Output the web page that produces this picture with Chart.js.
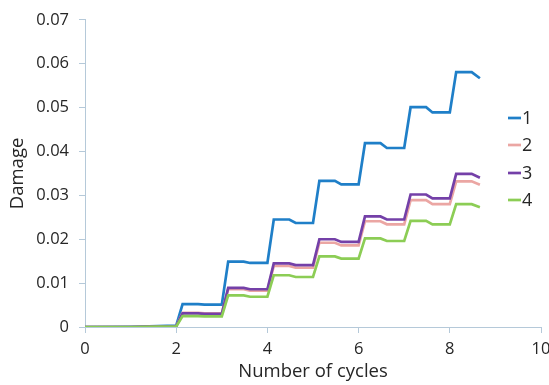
<!DOCTYPE html>
<html>
<head>
<meta charset="utf-8">
<script src="https://cdn.jsdelivr.net/npm/chart.js@4.4.1/dist/chart.umd.min.js"></script>
<style>
  html, body { margin: 0; padding: 0; background: #fff; }
  #wrap { width: 549px; height: 385px; position: relative; }
</style>
</head>
<body>
<div id="wrap"><canvas id="damageChart"></canvas></div>
<script>
/* ── data ── */
const cycles = [0, 1.0, 1.6, 2.0, 2.14, 2.48, 2.62, 3.0, 3.14, 3.48, 3.62, 4.0, 4.14, 4.48, 4.62,
  5.0, 5.14, 5.48, 5.62, 6.0, 6.14, 6.48, 6.62, 7.0, 7.14, 7.48, 7.62, 8.0, 8.14, 8.48, 8.66];

const series1 = [0, 0.00005, 0.0002, 0.0003, 0.0052, 0.0052, 0.0051, 0.0051, 0.0149, 0.0149, 0.0146, 0.0146,
  0.0245, 0.0245, 0.0237, 0.0237, 0.0333, 0.0333, 0.0325, 0.0325, 0.0419, 0.0419, 0.0408, 0.0408,
  0.0501, 0.0501, 0.0489, 0.0489, 0.0581, 0.0581, 0.0567];
const series2 = [0, 0, 0.0001, 0.0002, 0.0032, 0.0032, 0.0031, 0.0031, 0.0086, 0.0086, 0.0083, 0.0083,
  0.0139, 0.0139, 0.0135, 0.0135, 0.0192, 0.0192, 0.0186, 0.0186, 0.0241, 0.0241, 0.0234, 0.0234,
  0.0289, 0.0289, 0.0280, 0.0280, 0.0332, 0.0332, 0.0324];
const series3 = [0, 0, 0.0001, 0.0002, 0.0031, 0.0031, 0.0030, 0.0030, 0.0089, 0.0089, 0.0086, 0.0086,
  0.0145, 0.0145, 0.0141, 0.0141, 0.0200, 0.0200, 0.0194, 0.0194, 0.0252, 0.0252, 0.0245, 0.0245,
  0.0302, 0.0302, 0.0293, 0.0293, 0.0349, 0.0349, 0.0340];
const series4 = [0, 0, 0.0001, 0.0001, 0.0025, 0.0025, 0.0024, 0.0024, 0.0072, 0.0072, 0.0069, 0.0069,
  0.0118, 0.0118, 0.0114, 0.0114, 0.0161, 0.0161, 0.0156, 0.0156, 0.0202, 0.0202, 0.0196, 0.0196,
  0.0242, 0.0242, 0.0234, 0.0234, 0.0280, 0.0280, 0.0273];

const seriesNames = ['1', '2', '3', '4'];
const xTicks = [0, 2, 4, 6, 8, 10];
const yTicks = [0, 0.01, 0.02, 0.03, 0.04, 0.05, 0.06, 0.07];

const COLORS = ['#1f7fc8', '#eba6a3', '#7440a8', '#8ccd55'];
const AXIS = '#b5c9d9';
const TEXT = '#262626';
const FONT = "'Open Sans', sans-serif";

function pairs(ys) {
  return cycles.map((x, i) => ({ x, y: ys[i] }));
}

// later series on top, as in the original (lower order = drawn last)
function lineDataset(label, ys, color, order) {
  return {
    label,
    data: pairs(ys),
    borderColor: color,
    backgroundColor: color,
    borderWidth: 2.7,
    pointRadius: 0,
    showLine: true,
    tension: 0,
    order,
  };
}

/* legend sits inside the plot, on the right, like the original */
const innerLegend = {
  id: 'innerLegend',
  afterDraw(chart) {
    const ctx = chart.ctx;
    const rows = [118, 145, 173, 200];
    ctx.save();
    ctx.font = '18px ' + FONT;
    ctx.textBaseline = 'middle';
    ctx.textAlign = 'left';
    chart.data.datasets.forEach((ds, i) => {
      ctx.strokeStyle = ds.borderColor;
      ctx.lineWidth = 2.7;
      ctx.beginPath();
      ctx.moveTo(508, rows[i]);
      ctx.lineTo(521, rows[i]);
      ctx.stroke();
      ctx.fillStyle = TEXT;
      ctx.fillText(ds.label, 522, rows[i] + 1);
    });
    ctx.restore();
  }
};

new Chart(document.getElementById('damageChart'), {
  type: 'scatter',
  data: {
    datasets: [
      lineDataset(seriesNames[0], series1, COLORS[0], 4),
      lineDataset(seriesNames[1], series2, COLORS[1], 3),
      lineDataset(seriesNames[2], series3, COLORS[2], 2),
      lineDataset(seriesNames[3], series4, COLORS[3], 1),
    ]
  },
  options: {
    responsive: true,
    maintainAspectRatio: false,
    animation: false,
    layout: { padding: { left: 0, right: 8, top: 17, bottom: 0 } },
    plugins: {
      legend: { display: false },
      tooltip: { enabled: false },
    },
    scales: {
      x: {
        type: 'linear',
        min: 0, max: 10,
        afterBuildTicks: s => { s.ticks = xTicks.map(v => ({ value: v })); },
        afterFit: s => { s.height = 58; s.paddingLeft = 0; s.paddingRight = 0; },
        grid: { drawOnChartArea: false, color: AXIS, tickLength: 6 },
        border: { color: AXIS, width: 1 },
        ticks: { color: TEXT, font: { family: FONT, size: 16.5 }, padding: 6, maxRotation: 0 },
        title: {
          display: true, text: 'Number of cycles', color: TEXT,
          font: { family: FONT, size: 18.5 }, padding: { top: 0, bottom: 2 }
        }
      },
      y: {
        min: 0, max: 0.07,
        afterBuildTicks: s => { s.ticks = yTicks.map(v => ({ value: v })); },
        afterFit: s => { s.width = 85; },
        grid: { drawOnChartArea: false, color: AXIS, tickLength: 6 },
        border: { color: AXIS, width: 1 },
        ticks: {
          color: TEXT, font: { family: FONT, size: 16.5 }, padding: 10,
          callback: v => v === 0 ? '0' : v.toFixed(2)
        },
        title: {
          display: true, text: 'Damage', color: TEXT,
          font: { family: FONT, size: 18.5 }, padding: { top: 7, bottom: 0 }
        }
      }
    }
  },
  plugins: [innerLegend]
});
</script>
</body>
</html>
